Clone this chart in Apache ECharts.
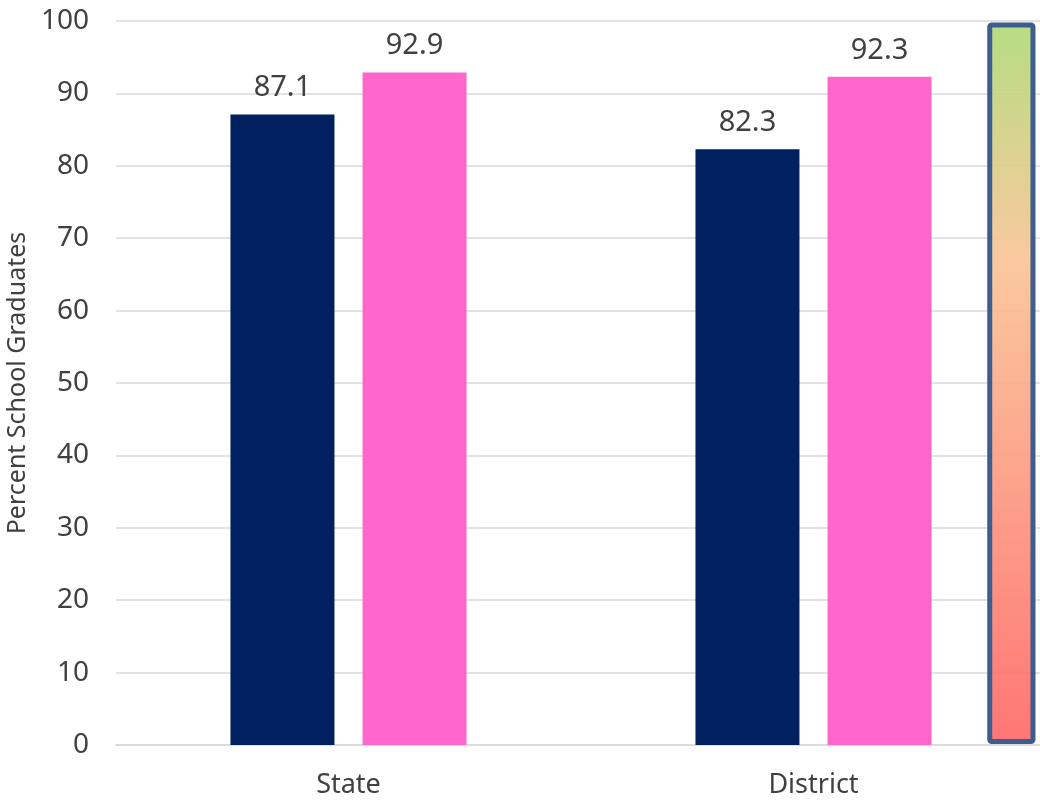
<!DOCTYPE html>
<html>
<head>
<meta charset="utf-8">
<script src="https://cdn.jsdelivr.net/npm/echarts@6/dist/echarts.min.js"></script>
<style>html,body{margin:0;padding:0;background:#fff;}#c{width:1040px;height:804px;}</style>
</head>
<body>
<div id="c"></div>
<script>
const categories = ['State', 'District'];
const seriesA = [87.1, 82.3];
const seriesB = [92.9, 92.3];
const yTicks = { min: 0, max: 100, interval: 10 };
const axisTitle = 'Percent School Graduates';

const FONT = '"Noto Sans", sans-serif';
const chart = echarts.init(document.getElementById('c'));
const labelStyle = { show: true, position: 'top', distance: 12, color: '#404040', fontSize: 29, fontFamily: FONT };
chart.setOption({
  animation: false,
  grid: { left: 116, top: 21, width: 930, bottom: 59, containLabel: false, outerBoundsMode: 'none' },
  xAxis: {
    type: 'category', data: categories,
    axisLine: { show: true, lineStyle: { color: '#d9d9d9', width: 1.5 } },
    axisTick: { show: false },
    axisLabel: { color: '#404040', fontSize: 27, fontFamily: FONT, margin: 27 }
  },
  yAxis: {
    type: 'value', min: yTicks.min, max: yTicks.max, interval: yTicks.interval,
    name: axisTitle, nameLocation: 'middle', nameGap: 80,
    nameTextStyle: { color: '#404040', fontSize: 25, fontFamily: FONT },
    axisLine: { show: false }, axisTick: { show: false },
    axisLabel: { color: '#404040', fontSize: 28, fontFamily: FONT, margin: 27 },
    splitLine: { lineStyle: { color: '#d9d9d9', width: 1.5 } }
  },
  series: [
    { type: 'bar', data: seriesA, barWidth: 104, barGap: '27%', itemStyle: { color: '#002060' }, label: labelStyle },
    { type: 'bar', data: seriesB, barWidth: 104, barGap: '27%', itemStyle: { color: '#ff66cc' }, label: labelStyle }
  ]
});

// Gradient scale bar placed relative to the axes
function placeScale() {
  const c0 = chart.convertToPixel({ xAxisIndex: 0 }, categories[0]);
  const c1 = chart.convertToPixel({ xAxisIndex: 0 }, categories[1]);
  const bw = c1 - c0;
  const yTop = chart.convertToPixel({ yAxisIndex: 0 }, yTicks.max) + 4;
  const yBot = chart.convertToPixel({ yAxisIndex: 0 }, yTicks.min) - 3.5;
  const x0 = c1 + 0.379 * bw;
  const x1 = c1 + 0.472 * bw;
  chart.setOption({
    graphic: [{
      type: 'rect', z: 10,
      shape: { x: x0, y: yTop, width: x1 - x0, height: yBot - yTop, r: 2 },
      style: {
        fill: new echarts.graphic.LinearGradient(0, 0, 0, 1, [
          { offset: 0, color: 'rgba(176,218,120,0.92)' },
          { offset: 0.33, color: 'rgba(250,196,150,0.92)' },
          { offset: 1, color: 'rgba(255,106,106,0.92)' }
        ]),
        stroke: '#3d5d8e', lineWidth: 5
      }
    }]
  });
}
placeScale();
</script>
</body>
</html>
